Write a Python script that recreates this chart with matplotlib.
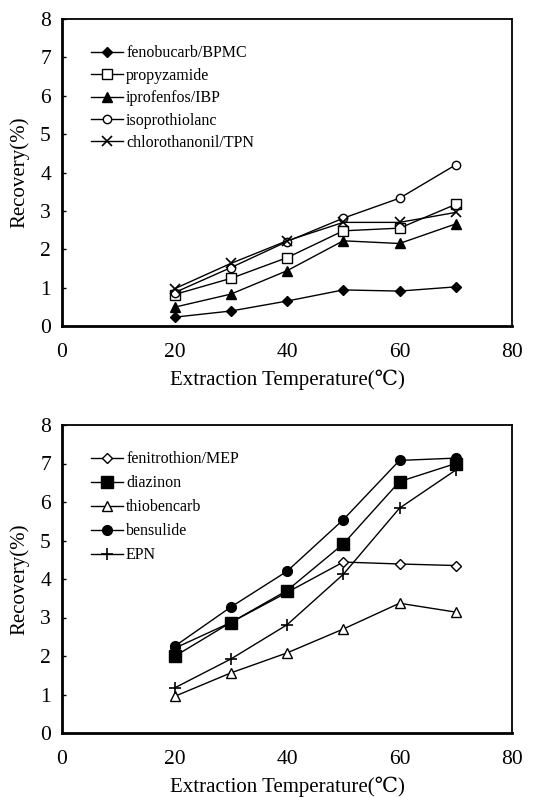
import matplotlib
matplotlib.use("Agg")
import matplotlib.pyplot as plt

temps = [20, 30, 40, 50, 60, 70]

top_names = ["fenobucarb/BPMC", "propyzamide", "iprofenfos/IBP", "isoprothiolanc", "chlorothanonil/TPN"]
fenobucarb = [0.23, 0.39, 0.65, 0.94, 0.91, 1.02]
propyzamide = [0.82, 1.24, 1.78, 2.48, 2.55, 3.17]
iprofenfos = [0.49, 0.83, 1.44, 2.22, 2.15, 2.66]
isoprothiolane = [0.87, 1.52, 2.20, 2.81, 3.33, 4.20]
chlorothanonil = [0.97, 1.63, 2.22, 2.70, 2.70, 2.96]

bot_names = ["fenitrothion/MEP", "diazinon", "thiobencarb", "bensulide", "EPN"]
fenitrothion = [2.20, 2.87, 3.65, 4.44, 4.39, 4.35]
diazinon = [1.99, 2.87, 3.70, 4.91, 6.53, 7.00]
thiobencarb = [0.95, 1.56, 2.08, 2.70, 3.37, 3.14]
bensulide = [2.25, 3.27, 4.20, 5.54, 7.08, 7.14]
epn = [1.17, 1.92, 2.81, 4.12, 5.84, 6.83]

xticks = [0, 20, 40, 60, 80]
yticks = [0, 1, 2, 3, 4, 5, 6, 7, 8]

serif = ["Liberation Serif", "DejaVu Serif"]
plt.rcParams["font.family"] = serif

fig = plt.figure(figsize=(5.4, 7.97), dpi=100)
W, H = 540, 797

def make_ax(top_px, bottom_px):
    left, right = 62, 512
    return fig.add_axes([left / W, 1 - bottom_px / H, (right - left) / W, (bottom_px - top_px) / H])

ax1 = make_ax(19, 326)
ax2 = make_ax(425, 733)

top_series = [fenobucarb, propyzamide, iprofenfos, isoprothiolane, chlorothanonil]
top_styles = [
    dict(marker="D", ms=5.5, mfc="black", mec="black"),
    dict(marker="s", ms=7, mfc="white", mec="black"),
    dict(marker="^", ms=7, mfc="black", mec="black"),
    dict(marker="o", ms=6, mfc="white", mec="black"),
    dict(marker="x", ms=7, mfc="black", mec="black", mew=1.2),
]
bot_series = [fenitrothion, diazinon, thiobencarb, bensulide, epn]
bot_styles = [
    dict(marker="D", ms=5, mfc="white", mec="black"),
    dict(marker="s", ms=8, mfc="black", mec="black"),
    dict(marker="^", ms=7.5, mfc="white", mec="black"),
    dict(marker="o", ms=7, mfc="black", mec="black"),
    dict(marker="+", ms=9, mfc="black", mec="black", mew=1.2),
]

for ax, series, names, styles, lsp in [(ax1, top_series, top_names, top_styles, 0.4),
                                       (ax2, bot_series, bot_names, bot_styles, 0.5)]:
    for vals, name, st in zip(series, names, styles):
        ax.plot(temps, vals, color="black", lw=1.0, label=name, **st)
    ax.set_xlim(0, 80)
    ax.set_ylim(0, 8)
    ax.set_xticks(xticks)
    ax.set_yticks(yticks)
    ax.tick_params(axis="y", direction="in", length=3, width=1, labelsize=15.5, pad=8)
    ax.tick_params(axis="x", length=0, labelsize=15.5, pad=12)
    for s in ["left", "bottom"]:
        ax.spines[s].set_linewidth(2.0)
    for s in ["top", "right"]:
        ax.spines[s].set_linewidth(1.3)
    ax.set_ylabel("Recovery(%)", fontsize=15, labelpad=8)
    ax.set_xlabel("Extraction Temperature(\u2103)", fontsize=15, labelpad=6,
                  family=["Liberation Serif", "DejaVu Serif", "DejaVu Sans"])
    ax.legend(loc="upper left", bbox_to_anchor=(0.05, 0.935), frameon=False,
              fontsize=11.5, handlelength=2.0, handletextpad=0.2,
              labelspacing=lsp, borderaxespad=0)

fig.savefig("out.png", dpi=100)
